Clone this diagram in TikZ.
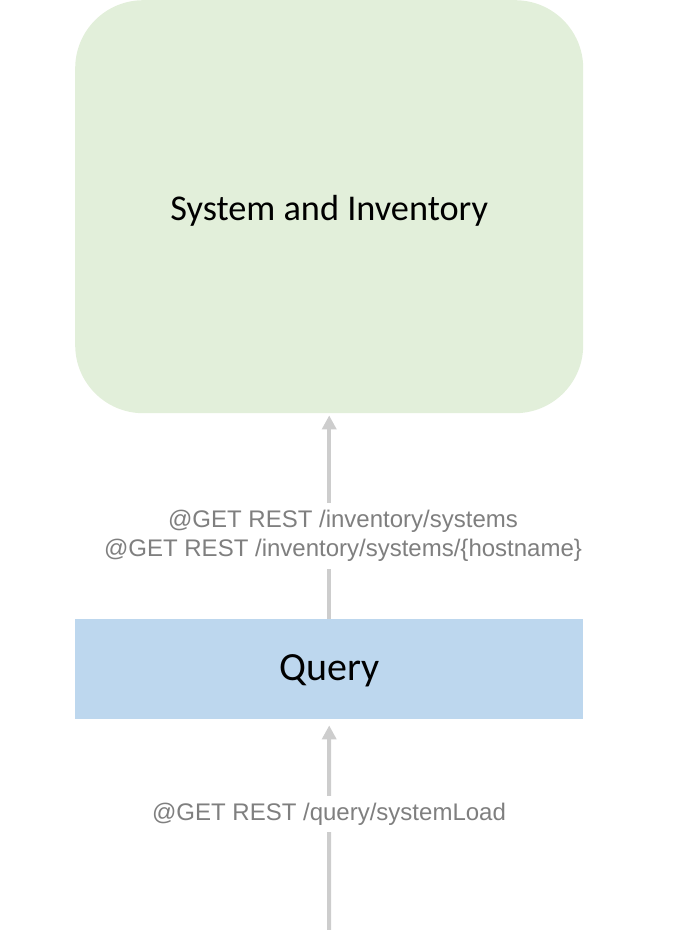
\documentclass[tikz,border=0pt]{standalone}
\usepackage{fontspec}
\setmainfont{Carlito}
\newfontfamily\labelfont{Liberation Sans}
\usetikzlibrary{arrows.meta}
\definecolor{invgreen}{HTML}{E2EFDA}
\definecolor{queryblue}{HTML}{BDD7EE}
\definecolor{linkgray}{HTML}{CDCDCD}
\definecolor{labelgray}{HTML}{7F7F7F}
\begin{document}
\begin{tikzpicture}[x=1pt,y=-1pt,
  service/.style={fill=#1,draw=none,inner sep=0pt,text=black},
  link/.style={draw=linkgray,line width=4pt,-{Triangle[width=14pt,length=14pt]}},
  restlabel/.style={fill=white,text=labelgray,align=center,inner xsep=2pt,inner ysep=7pt,
    font=\labelfont\fontsize{24}{29}\selectfont}]
  \useasboundingbox (0,0) rectangle (686,930);
  % services
  \node[service=invgreen,rounded corners=68pt,minimum width=508pt,minimum height=413pt,anchor=north west]
    (inv) at (75,0) {};
  \node at (inv.center) [yshift=-4pt,font=\fontsize{36.3}{43}\selectfont] (invtext) {System and Inventory};
  \node[service=queryblue,minimum width=508pt,minimum height=100pt,anchor=north west]
    (query) at (75,619) {};
  \node at (query.center) [yshift=-2pt,font=\fontsize{40}{48}\selectfont] (querytext) {Query};
  % REST calls
  \coordinate (client) at (329,930);
  \draw[link] (query.north) -- ([yshift=-2pt]inv.south);
  \node[restlabel] (invcalls) at (343,536)
    {@GET REST /inventory/systems\\@GET REST /inventory/systems/\{hostname\}};
  \draw[link] (client) -- ([yshift=-6pt]query.south);
  \node[restlabel] (querycall) at (329,814) {@GET REST /query/systemLoad};
\end{tikzpicture}
\end{document}
